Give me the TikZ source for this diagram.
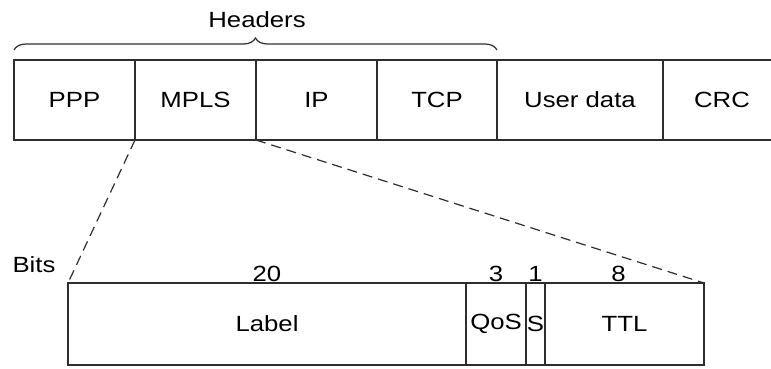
\documentclass[tikz,border=0pt]{standalone}
\usepackage{fontspec}
\setmainfont{Liberation Sans}[FakeStretch=1.17]
\usetikzlibrary{positioning, decorations.pathreplacing}
\definecolor{ink}{HTML}{2E2E2E}
\tikzset{
  cell/.style={draw=ink, line width=1.3pt, outer sep=0pt, inner sep=0pt,
    text=black, font=\fontsize{22}{26}\selectfont, minimum height=80pt},
  bitcell/.style={cell, minimum height=82pt},
  lbl/.style={font=\fontsize{22}{26}\selectfont, text=black, inner sep=1.5pt},
  zoomline/.style={draw=ink, line width=1.2pt, dash pattern=on 10pt off 6pt},
  hbrace/.style={draw=ink, line width=1.2pt, decorate, decoration={brace, amplitude=12pt}},
}

\begin{document}
\begin{tikzpicture}[x=1pt, y=-1pt, node distance=0pt]
  \useasboundingbox (0,0) rectangle (771,368);
  % frame
  \node[cell, minimum width=121pt, anchor=north west] (ppp) at (14,60) {PPP};
  \node[cell, minimum width=121pt, right=of ppp] (mpls) {MPLS};
  \node[cell, minimum width=121pt, right=of mpls] (ip) {IP};
  \node[cell, minimum width=120pt, right=of ip] (tcp) {TCP};
  \node[cell, minimum width=166pt, right=of tcp] (data) {User data};
  \node[cell, minimum width=118pt, right=of data] (crc) {CRC};
  \draw[hbrace] ([yshift=10pt]ppp.north west) -- ([yshift=10pt]tcp.north east);
  \node[lbl] (hdrs) at (257,20) {Headers};
  % MPLS header
  \node[bitcell, minimum width=398pt, anchor=north west,
    label={[lbl]above:20}] (label) at (68,283) {Label};
  \node[bitcell, minimum width=60pt, right=of label, label={[lbl]above:3}] (qos) {QoS};
  \node[bitcell, minimum width=19pt, right=of qos, label={[lbl]above:1}] (sbit) {S};
  \node[bitcell, minimum width=159pt, right=of sbit, label={[lbl,xshift=-6pt]above:8}] (ttl) {TTL};
  \node[lbl] (bits) at (34,265) {Bits};
  \draw[zoomline] (mpls.south west) -- (label.north west);
  \draw[zoomline] (mpls.south east) -- (ttl.north east);
\end{tikzpicture}
\end{document}
